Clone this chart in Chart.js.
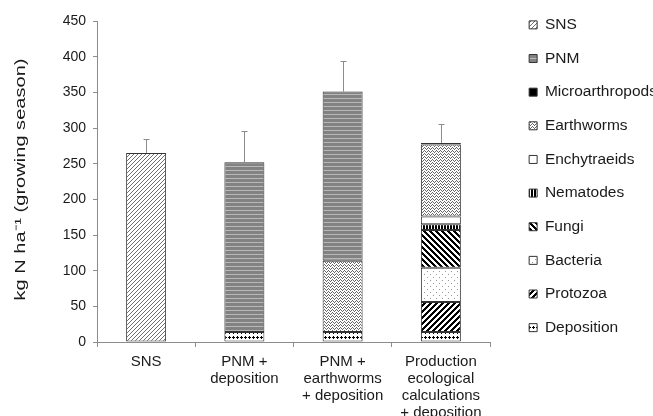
<!DOCTYPE html>
<html>
<head>
<meta charset="utf-8">
<script src="https://cdn.jsdelivr.net/npm/chart.js@4.4.0/dist/chart.umd.min.js"></script>
<style>
  body { margin: 0; background: #fff; }
  #wrap { width: 653px; height: 416px; }
</style>
</head>
<body>
<div id="wrap"><canvas id="chart" width="653" height="416"></canvas></div>
<script>
const categories = [
  ["SNS"],
  ["PNM +", "deposition"],
  ["PNM +", "earthworms", "+ deposition"],
  ["Production", "ecological", "calculations", "+ deposition"]
];

// stacked from the bottom up
const deposition = [null, 14, 14, 14];
const protozoa = [null, null, null, 42];
const bacteria = [null, null, null, 48];
const fungi = [null, null, null, 53];
const nematodes = [null, null, null, 8];
const enchytraeids = [null, null, null, 11];
const earthworms = [null, null, 100, 101];
const microarthropods = [null, null, null, 2];
const pnm = [null, 238, 237, null];
const sns = [265, null, null, null];

// upper end of the error bars
const errorTop = [285, 296, 394, 306];

const yMin = 0, yMax = 450, yStep = 50;
const yTitle = "kg N ha\u207B\u00B9 (growing season)";

const canvas = document.getElementById("chart");
const ctx = canvas.getContext("2d");

// small pixel tiles used as fills
function tile(w, h, bg, fg, on) {
  const c = document.createElement("canvas");
  c.width = w; c.height = h;
  const g = c.getContext("2d");
  g.fillStyle = bg;
  g.fillRect(0, 0, w, h);
  g.fillStyle = fg;
  for (let y = 0; y < h; y++) {
    for (let x = 0; x < w; x++) {
      if (on(x, y)) g.fillRect(x, y, 1, 1);
    }
  }
  return ctx.createPattern(c, "repeat");
}

const fills = {
  sns: tile(4, 4, "#fff", "#6e6e6e", (x, y) => (x + y) % 4 === 3),
  pnm: tile(1, 8, "#828282", "#b8b8b8", (x, y) => y === 2 || y === 6),
  micro: "#000",
  earthworms: tile(4, 3, "#fff", "#666", (x, y) => y === [0, 1, 2, 1][x]),
  enchy: "#fff",
  nematodes: tile(3, 1, "#fff", "#000", (x) => x < 2),
  fungi: tile(6, 6, "#fff", "#000", (x, y) => ((x - y) % 6 + 6) % 6 < 3),
  bacteria: tile(6, 6, "#fff", "#999", (x, y) => (x === 1 && y === 1) || (x === 4 && y === 4)),
  protozoa: tile(6, 6, "#fff", "#000", (x, y) => (x + y) % 6 < 3),
  deposition: tile(4, 5, "#fff", "#000", (x, y) => (x === 1 && y >= 1 && y <= 3) || (y === 2 && x <= 2))
};

function ds(label, data, fill) {
  return {
    label: label,
    data: data,
    backgroundColor: fill,
    borderColor: "#333",
    borderWidth: 1,
    borderSkipped: false,
    barPercentage: 0.407,
    categoryPercentage: 1
  };
}

const datasets = [
  ds("Deposition", deposition, fills.deposition),
  ds("Protozoa", protozoa, fills.protozoa),
  ds("Bacteria", bacteria, fills.bacteria),
  ds("Fungi", fungi, fills.fungi),
  ds("Nematodes", nematodes, fills.nematodes),
  ds("Enchytraeids", enchytraeids, fills.enchy),
  ds("Earthworms", earthworms, fills.earthworms),
  ds("Microarthropods", microarthropods, fills.micro),
  ds("PNM", pnm, fills.pnm),
  ds("SNS", sns, fills.sns)
];

const totals = categories.map((_, i) =>
  datasets.reduce((s, d) => s + (d.data[i] || 0), 0));

const font = "'Liberation Sans', Arial, sans-serif";
const axisColor = "#8c8c8c";
const textColor = "#1a1a1a";

// upward error bars
const errorBars = {
  id: "errorBars",
  afterDatasetsDraw(chart) {
    const x = chart.scales.x, y = chart.scales.y, c = chart.ctx;
    c.save();
    c.strokeStyle = "#8c8c8c";
    c.lineWidth = 1;
    totals.forEach((t, i) => {
      const px = Math.round(x.getPixelForValue(i)) + 0.5;
      const top = Math.round(y.getPixelForValue(errorTop[i])) + 0.5;
      const base = y.getPixelForValue(t);
      c.beginPath();
      c.moveTo(px, base);
      c.lineTo(px, top);
      c.moveTo(px - 3, top);
      c.lineTo(px + 3, top);
      c.stroke();
    });
    c.restore();
  }
};

// y title, drawn long and narrow like the original
const yTitlePlugin = {
  id: "yTitle",
  afterDraw(chart) {
    const a = chart.chartArea, c = chart.ctx;
    c.save();
    c.translate(21, (a.top + a.bottom) / 2 - 2);
    c.rotate(-Math.PI / 2);
    c.font = "15px " + font;
    const w = c.measureText(yTitle).width;
    c.scale(242 / w, 1);
    c.fillStyle = textColor;
    c.textAlign = "center";
    c.textBaseline = "middle";
    c.fillText(yTitle, 0, 0);
    c.restore();
  }
};

// legend sits further right than the plot edge
const legendPlace = {
  id: "legendPlace",
  beforeInit(chart) {
    const fit = chart.legend.fit;
    chart.legend.fit = function () {
      fit.call(this);
      this.width = 163;
    };
  },
  afterLayout(chart) {
    const lg = chart.legend;
    lg.left = 511;
    lg.right = 653;
    lg.top = -1;
    lg.bottom = 415;
  }
};

new Chart(ctx, {
  type: "bar",
  data: { labels: categories, datasets: datasets },
  options: {
    responsive: false,
    animation: false,
    layout: { padding: { top: 21, right: 0, bottom: 0, left: 0 } },
    plugins: {
      tooltip: { enabled: false },
      legend: {
        position: "right",
        align: "start",
        reverse: true,
        labels: {
          boxWidth: 8,
          boxHeight: 8,
          padding: 18.14,
          color: textColor,
          font: { family: font, size: 15.5 }
        }
      }
    },
    scales: {
      x: {
        stacked: true,
        border: { color: axisColor },
        grid: { drawOnChartArea: false, tickLength: 5, color: axisColor },
        ticks: {
          color: textColor,
          padding: 6,
          maxRotation: 0,
          autoSkip: false,
          font: { family: font, size: 15, lineHeight: "17px" }
        },
        afterFit(scale) { scale.height = 74; }
      },
      y: {
        stacked: true,
        min: yMin,
        max: yMax,
        border: { color: axisColor },
        grid: { drawOnChartArea: false, tickLength: 4, color: axisColor },
        ticks: {
          stepSize: yStep,
          color: textColor,
          padding: 7,
          font: { family: font, size: 14 }
        },
        afterFit(scale) { scale.width = 97; }
      }
    }
  },
  plugins: [errorBars, yTitlePlugin, legendPlace]
});
</script>
</body>
</html>
